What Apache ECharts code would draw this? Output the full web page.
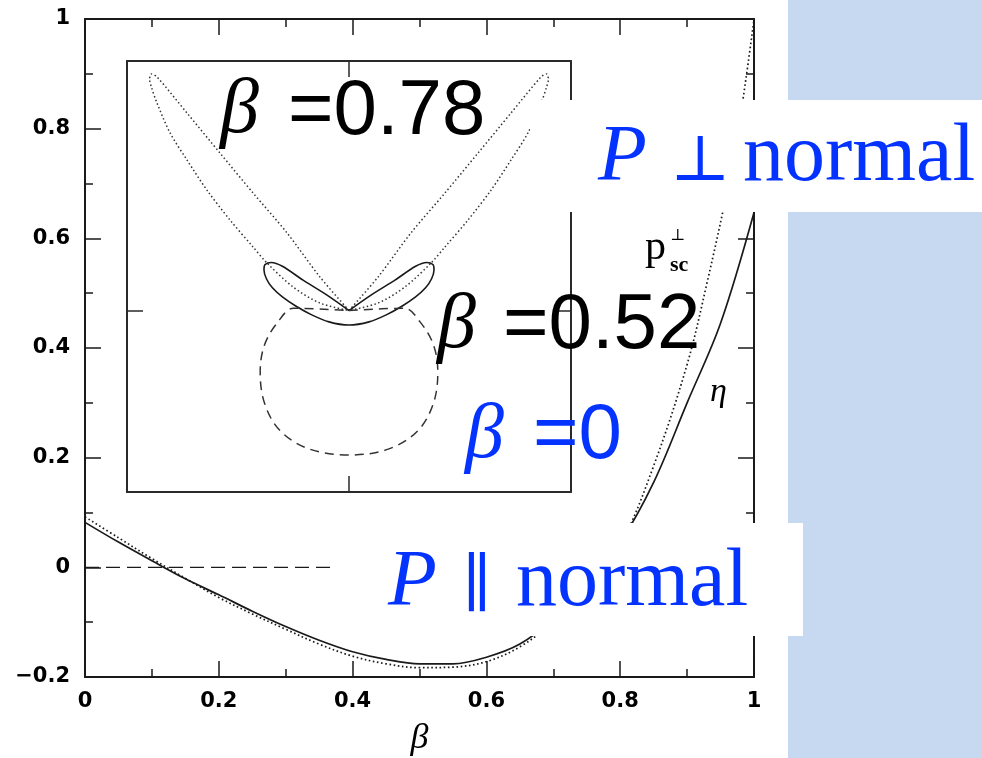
<!DOCTYPE html>
<html>
<head>
    <meta charset="utf-8">
    <style>html,body{margin:0;padding:0;background:#fff;}</style>
</head>
<body>

<div id="main" style="width: 982px;height:758px;"></div>
<script src="https://cdn.jsdelivr.net/npm/echarts@6.0.0/dist/echarts.min.js"></script>
<script type="text/javascript">
    // main panel: eta (solid) and p_sc perp (dotted) vs beta
    var etaBeta = [0, 0.05, 0.1, 0.15, 0.2, 0.25, 0.3, 0.35, 0.4, 0.45, 0.5, 0.55, 0.6, 0.65, 0.7, 0.75, 0.8, 0.85, 0.9, 0.95, 1.0];
    var eta = [0.082, 0.046, 0.012, -0.021, -0.050, -0.080, -0.108, -0.133, -0.154, -0.168, -0.176, -0.176, -0.164, -0.140, -0.095, -0.035, 0.045, 0.155, 0.300, 0.445, 0.647];
    var pscBeta = [0, 0.05, 0.1, 0.15, 0.2, 0.25, 0.3, 0.35, 0.4, 0.45, 0.5, 0.55, 0.6, 0.65, 0.7, 0.75, 0.8, 0.85, 0.9, 0.93, 0.96, 0.98, 1.0];
    var psc = [0.092, 0.054, 0.016, -0.020, -0.055, -0.085, -0.113, -0.140, -0.162, -0.176, -0.183, -0.182, -0.172, -0.145, -0.100, -0.040, 0.040, 0.185, 0.370, 0.520, 0.688, 0.825, 0.999];
    var zeroBeta = [0, 0.375];
    var zeroVal = [0, 0];

    // inset: polar patterns (inset units, origin where the lobes meet)
    var b78LeftX = [0, -0.131, -0.279, -0.432, -0.581, -0.730, -0.865, -0.890, -0.898, -0.890, -0.865, -0.806, -0.730, -0.640, -0.536, -0.432, -0.369, -0.252, -0.131, 0];
    var b78LeftY = [0, 0.148, 0.342, 0.518, 0.694, 0.871, 1.030, 1.043, 1.020, 0.985, 0.915, 0.783, 0.664, 0.531, 0.399, 0.280, 0.209, 0.104, 0.033, 0];
    var b78RightX = [0, 0.131, 0.279, 0.432, 0.581, 0.730, 0.865, 0.890, 0.898, 0.890, 0.865, 0.806, 0.730, 0.640, 0.536, 0.432, 0.369, 0.252, 0.131, 0];
    var b78RightY = [0, 0.148, 0.342, 0.518, 0.694, 0.871, 1.030, 1.043, 1.020, 0.985, 0.915, 0.783, 0.664, 0.531, 0.399, 0.280, 0.209, 0.104, 0.033, 0];
    var b52X = [0, -0.099, -0.207, -0.300, -0.350, -0.378, -0.383, -0.372, -0.345, -0.300, -0.240, -0.170, -0.090, 0, 0.090, 0.170, 0.240, 0.300, 0.345, 0.372, 0.383, 0.378, 0.350, 0.300, 0.207, 0.099, 0];
    var b52Y = [0, 0.068, 0.134, 0.195, 0.212, 0.203, 0.180, 0.140, 0.100, 0.060, 0.020, -0.018, -0.050, -0.064, -0.050, -0.018, 0.020, 0.060, 0.100, 0.140, 0.180, 0.203, 0.212, 0.195, 0.134, 0.068, 0];
    var b0X = [0, 0.25, 0.32, 0.38, 0.40, 0.38, 0.31, 0.18, 0, -0.18, -0.31, -0.38, -0.40, -0.38, -0.32, -0.25, 0];
    var b0Y = [0, 0.01, -0.05, -0.15, -0.27, -0.41, -0.53, -0.61, -0.637, -0.61, -0.53, -0.41, -0.27, -0.15, -0.05, 0.01, 0];

    var INK = '#1a1a1a';
    var BLUE = '#0433ff';

    function pairs(xs, ys) {
        return xs.map(function (x, i) { return [x, ys[i]]; });
    }

    function mainAxis(pos, showLabel) {
        var isX = pos === 'bottom' || pos === 'top';
        return {
            gridIndex: 0,
            type: 'value',
            position: pos,
            min: isX ? 0 : -0.2,
            max: 1,
            interval: 0.2,
            axisLine: {onZero: false, lineStyle: {color: INK, width: 2}},
            axisTick: {inside: true, length: 16, lineStyle: {color: INK, width: 1.5}},
            minorTick: {show: true, splitNumber: 2, length: 8, lineStyle: {color: INK, width: 1.5}},
            splitLine: {show: false},
            axisLabel: {
                show: showLabel,
                margin: isX ? 14 : 15,
                color: '#000',
                fontFamily: 'DejaVu Sans',
                fontWeight: 'bold',
                fontSize: 21,
                formatter: function (v) {
                    return String(Math.round(v * 10) / 10).replace('-', '\u2212');
                }
            }
        };
    }

    function insetAxis(pos, isX) {
        return {
            gridIndex: 1,
            type: 'value',
            position: pos,
            min: isX ? -1 : -0.8,
            max: isX ? 1 : 1.1,
            axisLine: {onZero: false, lineStyle: {color: '#2a2a2a', width: 2}},
            axisTick: {inside: true, length: 16, customValues: [0], lineStyle: {color: '#2a2a2a', width: 1.5}},
            axisLabel: {show: false},
            splitLine: {show: false}
        };
    }

    var xBottom = mainAxis('bottom', true);
    xBottom.name = 'β';
    xBottom.nameLocation = 'middle';
    xBottom.nameGap = 44;
    xBottom.nameTextStyle = {fontFamily: 'Liberation Serif', fontStyle: 'italic', fontSize: 36, color: '#000'};

    function txt(text, x, y, font, fill) {
        return {
            type: 'text', x: x, y: y, z: 110, silent: true,
            style: {text: text, font: font, fill: fill || '#000', textAlign: 'left', textVerticalAlign: 'middle'}
        };
    }

    var option = {
        animation: false,
        backgroundColor: '#fff',
        grid: [
            {left: 85, top: 19, width: 669, height: 658, outerBoundsMode: 'none'},
            {left: 127, top: 61, width: 444, height: 431, outerBoundsMode: 'none'}
        ],
        xAxis: [xBottom, mainAxis('top', false), insetAxis('bottom', true), insetAxis('top', true)],
        yAxis: [mainAxis('left', true), mainAxis('right', false), insetAxis('left', false), insetAxis('right', false)],
        series: [
            {
                name: 'eta', type: 'line', xAxisIndex: 0, yAxisIndex: 0,
                data: pairs(etaBeta, eta), showSymbol: false, smooth: 0.35,
                lineStyle: {color: INK, width: 1.7}
            },
            {
                name: 'psc', type: 'line', xAxisIndex: 0, yAxisIndex: 0,
                data: pairs(pscBeta, psc), showSymbol: false, smooth: 0.35,
                lineStyle: {color: INK, width: 1.7, type: [1.6, 2.6]}
            },
            {
                name: 'zero', type: 'line', xAxisIndex: 0, yAxisIndex: 0,
                data: pairs(zeroBeta, zeroVal), showSymbol: false,
                lineStyle: {color: INK, width: 1.4, type: [14, 7]}
            },
            {
                name: 'b78L', type: 'line', xAxisIndex: 2, yAxisIndex: 2,
                data: pairs(b78LeftX, b78LeftY), showSymbol: false, smooth: 0.3,
                lineStyle: {color: '#333', width: 1.5, type: [1.5, 2.5]}
            },
            {
                name: 'b78R', type: 'line', xAxisIndex: 2, yAxisIndex: 2,
                data: pairs(b78RightX, b78RightY), showSymbol: false, smooth: 0.3,
                lineStyle: {color: '#333', width: 1.5, type: [1.5, 2.5]}
            },
            {
                name: 'b52', type: 'line', xAxisIndex: 2, yAxisIndex: 2,
                data: pairs(b52X, b52Y), showSymbol: false, smooth: 0.3,
                lineStyle: {color: INK, width: 1.6}
            },
            {
                name: 'b0', type: 'line', xAxisIndex: 2, yAxisIndex: 2,
                data: pairs(b0X, b0Y), showSymbol: false, smooth: 0.35,
                lineStyle: {color: '#333', width: 1.5, type: [9, 6]}
            }
        ],
        graphic: [
            {type: 'rect', z: 90, silent: true, shape: {x: 788, y: 0, width: 194, height: 758}, style: {fill: '#c6d9f0'}},
            {type: 'rect', z: 100, silent: true, shape: {x: 530, y: 100, width: 452, height: 112}, style: {fill: '#fff'}},
            {type: 'rect', z: 100, silent: true, shape: {x: 338, y: 523, width: 465, height: 113}, style: {fill: '#fff'}},

            txt('β', 220, 111, 'italic 78px "Liberation Serif"'),
            txt('=0.78', 288, 112, '78px "Liberation Sans"'),
            txt('β', 437, 326, 'italic 78px "Liberation Serif"'),
            txt('=0.52', 503, 326, '78px "Liberation Sans"'),
            txt('β', 465, 436, 'italic 78px "Liberation Serif"', BLUE),
            txt('=0', 533, 436, '78px "Liberation Sans"', BLUE),

            txt('P', 598, 159, 'italic 80px "Liberation Serif"', BLUE),
            txt('⊥', 670, 163, '64px "DejaVu Serif"', BLUE),
            txt('normal', 743, 158, '82px "Liberation Serif"', BLUE),
            txt('P', 388, 584, 'italic 80px "Liberation Serif"', BLUE),
            txt('∥', 462, 588, '64px "DejaVu Serif"', BLUE),
            txt('normal', 516, 583, '82px "Liberation Serif"', BLUE),

            txt('p', 645, 248, '42px "Liberation Serif"'),
            txt('⊥', 670, 236, '16px "DejaVu Serif"'),
            txt('sc', 670, 265, 'bold 22px "Liberation Serif"'),
            txt('η', 710, 392, 'italic 34px "Liberation Serif"')
        ]
    };

    var myChart = echarts.init(document.getElementById('main'));
    myChart.setOption(option);
</script>
</body>
</html>
